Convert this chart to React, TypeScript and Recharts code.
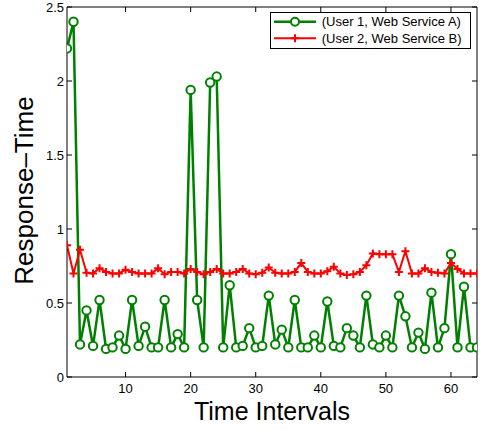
import React from 'react';
import { LineChart, Line, XAxis, YAxis, Label } from 'recharts';

const timeIntervals = [
  1, 2, 3, 4, 5, 6, 7, 8, 9, 10, 11, 12, 13, 14, 15, 16,
  17, 18, 19, 20, 21, 22, 23, 24, 25, 26, 27, 28, 29, 30, 31, 32,
  33, 34, 35, 36, 37, 38, 39, 40, 41, 42, 43, 44, 45, 46, 47, 48,
  49, 50, 51, 52, 53, 54, 55, 56, 57, 58, 59, 60, 61, 62, 63, 64,
];

const user1ServiceA = [
  2.22, 2.40, 0.22, 0.45, 0.21, 0.52, 0.19, 0.20, 0.28, 0.19, 0.52, 0.21, 0.34, 0.20, 0.20, 0.52,
  0.20, 0.29, 0.20, 1.94, 0.52, 0.20, 1.99, 2.03, 0.20, 0.62, 0.20, 0.21, 0.33, 0.20, 0.21, 0.55,
  0.22, 0.32, 0.20, 0.52, 0.20, 0.20, 0.28, 0.20, 0.51, 0.21, 0.20, 0.33, 0.28, 0.20, 0.55, 0.22,
  0.20, 0.28, 0.20, 0.55, 0.41, 0.20, 0.30, 0.19, 0.57, 0.20, 0.33, 0.83, 0.20, 0.61, 0.20, 0.20,
];

const user2ServiceB = [
  0.89, 0.70, 0.86, 0.705, 0.70, 0.735, 0.71, 0.70, 0.70, 0.725, 0.71, 0.70, 0.70, 0.70, 0.735, 0.695,
  0.71, 0.71, 0.70, 0.73, 0.71, 0.695, 0.71, 0.73, 0.70, 0.70, 0.71, 0.73, 0.70, 0.695, 0.705, 0.74,
  0.705, 0.70, 0.70, 0.71, 0.77, 0.71, 0.70, 0.70, 0.715, 0.745, 0.70, 0.69, 0.695, 0.71, 0.755, 0.835,
  0.83, 0.83, 0.83, 0.71, 0.85, 0.70, 0.70, 0.735, 0.71, 0.705, 0.70, 0.77, 0.73, 0.70, 0.70, 0.70,
];

const xTicks = [10, 20, 30, 40, 50, 60];
const yTicks = [0, 0.5, 1, 1.5, 2, 2.5];
const seriesNames = ['(User 1, Web Service A)', '(User 2, Web Service B)'];

const GREEN = '#008000';
const RED = '#ff0000';
const FONT = '"Liberation Sans", Arial, Helvetica, sans-serif';

const data = timeIntervals.map((t, i) => ({ t, a: user1ServiceA[i], b: user2ServiceB[i] }));

const CircleDot = (props: any) => {
  const { cx, cy, index } = props;
  if (cx == null || cy == null) return <g key={`c${index}`} />;
  return <circle key={`c${index}`} cx={cx} cy={cy} r={4.2} stroke={GREEN} strokeWidth={2} fill="#ffffff" />;
};

const PlusDot = (props: any) => {
  const { cx, cy, index } = props;
  if (cx == null || cy == null) return <g key={`p${index}`} />;
  return (
    <path
      key={`p${index}`}
      d={`M${cx - 4},${cy}H${cx + 4}M${cx},${cy - 4}V${cy + 4}`}
      stroke={RED}
      strokeWidth={2}
      fill="none"
    />
  );
};

const tickStyle = { fontSize: 13, fill: '#000000', fontFamily: FONT };
const noLabel = () => <g />;

export default function App() {
  return (
    <div style={{ position: 'absolute', left: 0, top: 0, width: 482, height: 429, background: '#ffffff' }}>
      <LineChart
        width={482}
        height={429}
        data={data}
        margin={{ top: 6, right: 4, bottom: 0, left: 0 }}
        style={{ fontFamily: FONT }}
      >
        <XAxis
          dataKey="t"
          type="number"
          domain={[1, 64]}
          ticks={xTicks}
          interval={0}
          height={52}
          tickSize={-5}
          tickMargin={12}
          stroke="#000000"
          axisLine={{ stroke: '#000000', strokeWidth: 1 }}
          tickLine={{ stroke: '#000000' }}
          tick={tickStyle}
          allowDataOverflow
        >
          <Label
            content={() => (
              <text x={272} y={420} textAnchor="middle" fontSize={25} fill="#000000" fontFamily={FONT}>
                Time Intervals
              </text>
            )}
          />
        </XAxis>
        <XAxis
          xAxisId="top"
          dataKey="t"
          type="number"
          orientation="top"
          domain={[1, 64]}
          ticks={xTicks}
          interval={0}
          height={1}
          tickSize={-5}
          tick={noLabel}
          stroke="#000000"
          axisLine={{ stroke: '#000000', strokeWidth: 1 }}
          tickLine={{ stroke: '#000000' }}
          allowDataOverflow
        />
        <YAxis
          type="number"
          domain={[0, 2.5]}
          ticks={yTicks}
          interval={0}
          width={67}
          tickSize={-5}
          tickMargin={8}
          stroke="#000000"
          axisLine={{ stroke: '#000000', strokeWidth: 1 }}
          tickLine={{ stroke: '#000000' }}
          tick={tickStyle}
          allowDataOverflow
        >
          <Label
            content={() => (
              <text
                x={33}
                y={190.5}
                transform="rotate(-90 33 190.5)"
                textAnchor="middle"
                fontSize={26}
                fill="#000000"
                fontFamily={FONT}
              >
                Response–Time
              </text>
            )}
          />
        </YAxis>
        <YAxis
          yAxisId="right"
          orientation="right"
          type="number"
          domain={[0, 2.5]}
          ticks={yTicks}
          interval={0}
          width={1}
          tickSize={-5}
          tick={noLabel}
          stroke="#000000"
          axisLine={{ stroke: '#000000', strokeWidth: 1 }}
          tickLine={{ stroke: '#000000' }}
          allowDataOverflow
        />
        <Line
          dataKey="a"
          name={seriesNames[0]}
          stroke={GREEN}
          strokeWidth={2.5}
          dot={CircleDot}
          activeDot={false}
          isAnimationActive={false}
        />
        <Line
          dataKey="b"
          name={seriesNames[1]}
          stroke={RED}
          strokeWidth={2}
          dot={PlusDot}
          activeDot={false}
          isAnimationActive={false}
        />
      </LineChart>
      <svg
        width={202}
        height={37}
        style={{ position: 'absolute', left: 270, top: 12, overflow: 'visible' }}
      >
        <rect x={0.5} y={0.5} width={200} height={36} fill="#ffffff" stroke="#000000" strokeWidth={1} />
        <line x1={4} y1={9.7} x2={46} y2={9.7} stroke={GREEN} strokeWidth={2.5} />
        <circle cx={25} cy={9.7} r={4} stroke={GREEN} strokeWidth={2} fill="#ffffff" />
        <text x={51.7} y={14.2} fontSize={13} fill="#000000" fontFamily={FONT}>
          {seriesNames[0]}
        </text>
        <line x1={4} y1={26.3} x2={46} y2={26.3} stroke={RED} strokeWidth={2} />
        <path d="M21,26.3H29M25,22.3V30.3" stroke={RED} strokeWidth={2} fill="none" />
        <text x={51.7} y={30.8} fontSize={13} fill="#000000" fontFamily={FONT}>
          {seriesNames[1]}
        </text>
      </svg>
    </div>
  );
}
